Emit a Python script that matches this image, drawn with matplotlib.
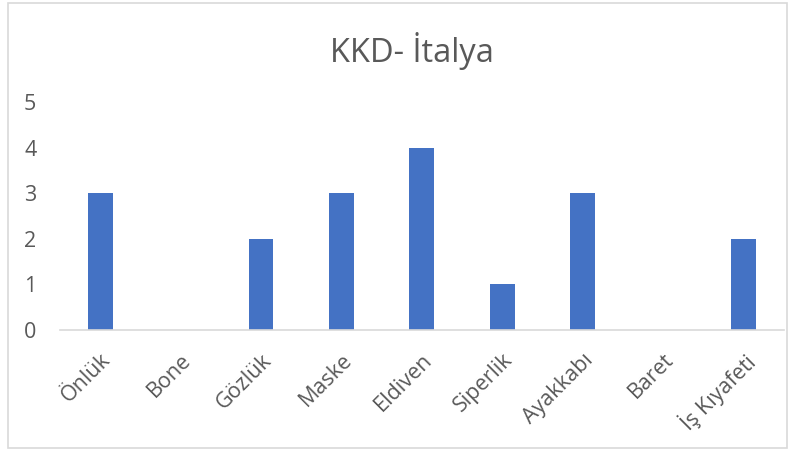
import matplotlib.pyplot as plt
from matplotlib.patches import Rectangle

categories = ['Önlük', 'Bone', 'Gözlük', 'Maske', 'Eldiven', 'Siperlik',
              'Ayakkabı', 'Baret', 'İş Kıyafeti']
values = [3, 0, 2, 3, 4, 1, 3, 0, 2]
yticks = [0, 1, 2, 3, 4, 5]

plt.rcParams['font.family'] = ['Open Sans', 'DejaVu Sans']
text_color = '#595959'

fig = plt.figure(figsize=(7.99, 4.51), dpi=100)
ax = fig.add_axes([0.075, 0.268, 0.906, 0.506])

x = range(len(categories))
ax.bar(x, values, width=0.31, color='#4472C4', zorder=2)

ax.set_xlim(-0.5, len(categories) - 0.5)
ax.set_ylim(0, 5)
ax.set_yticks(yticks)
ax.set_xticks(list(x))
ax.set_xticklabels(categories, rotation=45, ha='right', va='top',
                   rotation_mode='anchor', fontsize=15.5, color=text_color)
ax.tick_params(axis='y', length=0, labelsize=15.5, labelcolor=text_color, pad=17)
ax.tick_params(axis='x', length=0, pad=14)

for side in ['top', 'right', 'left']:
    ax.spines[side].set_visible(False)
ax.spines['bottom'].set_color('#d9d9d9')
ax.spines['bottom'].set_linewidth(1.2)

fig.text(0.516, 0.888, 'KKD- İtalya', ha='center', va='center',
         fontsize=23.5, color=text_color)

# chart frame
fig.patches.append(Rectangle((8 / 799, 3 / 451), 779 / 799, 445 / 451,
                             transform=fig.transFigure, fill=False,
                             edgecolor='#d9d9d9', linewidth=1.2))

fig.savefig('out.png', dpi=100)
